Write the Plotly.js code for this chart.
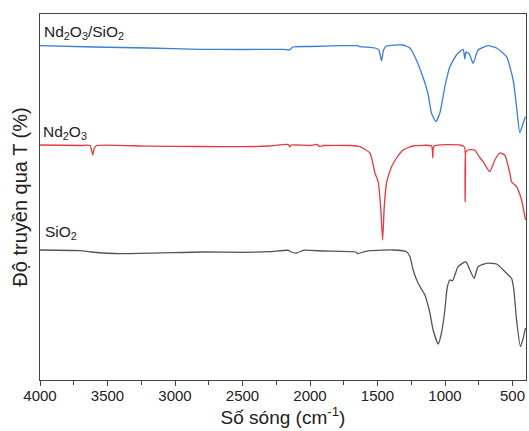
<!DOCTYPE html>
<html>
<head>
<meta charset="utf-8">
<script src="https://cdn.plot.ly/plotly-3.0.1.min.js"></script>
<style>html,body{margin:0;padding:0;background:#fff;}#chart{width:529px;height:431px;}</style>
</head>
<body>
<div id="chart"></div>
<script>
// Wavenumbers (cm-1) and transmittance (arbitrary, offset) for each sample
const wnBlue = [4000,3600,3200,2815,2500,2200,2160,2149,2127,2000,1779,1650,1630,1519,1490,1470,1455,1433,1312,1260,1223,1164,1127,1100,1068,1038,1001,964,915,866,853,845,820,792,755,680,618,544,495,470,446,421,404];
const tBlue  = [334.3,333,332,330.7,330.5,330.6,330,330.3,333,333.5,334.3,334.3,333.3,332,330,319.3,330,334,335,332,323.3,303.3,287,267,258.3,267,293.3,313.3,325,330.7,321,328,326,316.7,330,334.3,332,323.3,300,273.3,247.3,257,263.3];

const wnRed = [4000,3700,3630,3615,3608,3600,3580,3200,2800,2500,2300,2160,2150,2140,2000,1950,1930,1900,1700,1630,1556,1519,1495,1477,1462,1450,1433,1396,1359,1310,1236,1100,1090,1082,890,856,851,846,829,779,747,718,668,631,594,557,520,507,470,433,404];
const tRed  = [235,234.5,234.5,228,225,231,234.5,233.8,233.5,233.3,234,235.5,233,235,234.5,235.5,233.5,234.5,234.5,233.3,227,207,198.3,173.3,140,173.3,197,213.3,222,230,234,234,222,234,235,233,178.3,228,230,230,223.3,218.3,208.3,220,227,225,207,198.3,193.3,180,160];

const wnGray = [4000,3700,3620,3400,2800,2500,2300,2160,2140,2100,2050,1900,1660,1645,1630,1556,1384,1285,1260,1236,1199,1149,1112,1088,1051,1026,1001,984,964,944,903,846,816,784,755,692,618,544,507,490,470,441,421,404];
const tGray  = [130,129.3,128,126.3,128,127.7,128.3,129.7,128,127,129.7,129,128,126.3,127,129.3,130,128.3,123.3,110,96.7,85,67,50,36,47,70,92,100,99.3,113.3,118.3,110,101.7,113.3,116.7,116,106.7,101.7,90,60,33.3,41.7,52];

const seriesNames = ["Nd<sub>2</sub>O<sub>3</sub>/SiO<sub>2</sub>", "Nd<sub>2</sub>O<sub>3</sub>", "SiO<sub>2</sub>"];
const xTickVals = [4000,3500,3000,2500,2000,1500,1000,500];

const lineCommon = {width: 1.3, shape: 'spline', smoothing: 0.5};
const traces = [
  {x: wnBlue, y: tBlue, mode: 'lines', line: Object.assign({color: '#3b7ddd'}, lineCommon), name: seriesNames[0]},
  {x: wnRed, y: tRed, mode: 'lines', line: Object.assign({color: '#e8393e'}, lineCommon), name: seriesNames[1]},
  {x: wnGray, y: tGray, mode: 'lines', line: Object.assign({color: '#555555'}, lineCommon), name: seriesNames[2]}
];

const font = {family: 'Liberation Sans, Arial, sans-serif', color: '#222'};
const layout = {
  width: 529, height: 431,
  margin: {l: 40, r: 3, t: 14, b: 51},
  paper_bgcolor: '#fff', plot_bgcolor: '#fff',
  showlegend: false,
  font: font,
  xaxis: {
    range: [4000, 400], tickvals: xTickVals, ticks: 'outside', ticklen: 5, tickwidth: 1, tickcolor: '#444',
    minor: {dtick: 250, ticks: 'outside', ticklen: 4, tickcolor: '#444', showgrid: false},
    showgrid: false, zeroline: false, showline: true, linecolor: '#444', linewidth: 1, mirror: true,
    tickfont: {size: 15, color: '#222', family: font.family},
    ticklabelstandoff: -3,
    automargin: true,
    title: {text: 'Số sóng (cm<sup>-1</sup>)', font: {size: 19, color: '#222', family: font.family}, standoff: 0}
  },
  yaxis: {
    range: [0, 366], showticklabels: false, ticks: '', showgrid: false, zeroline: false,
    showline: true, linecolor: '#444', linewidth: 1, mirror: true,
    title: {text: 'Độ truyền qua T (%)', font: {size: 20, color: '#222', family: font.family}, standoff: 6}
  },
  annotations: [
    {x: 3985, y: 348, text: seriesNames[0], showarrow: false, xanchor: 'left', yanchor: 'middle', font: {size: 15.5, color: '#222'}},
    {x: 3995, y: 248, text: seriesNames[1], showarrow: false, xanchor: 'left', yanchor: 'middle', font: {size: 15.5, color: '#222'}},
    {x: 3975, y: 148, text: seriesNames[2], showarrow: false, xanchor: 'left', yanchor: 'middle', font: {size: 15.5, color: '#222'}}
  ]
};

Plotly.newPlot('chart', traces, layout, {staticPlot: true, displayModeBar: false});
</script>
</body>
</html>
